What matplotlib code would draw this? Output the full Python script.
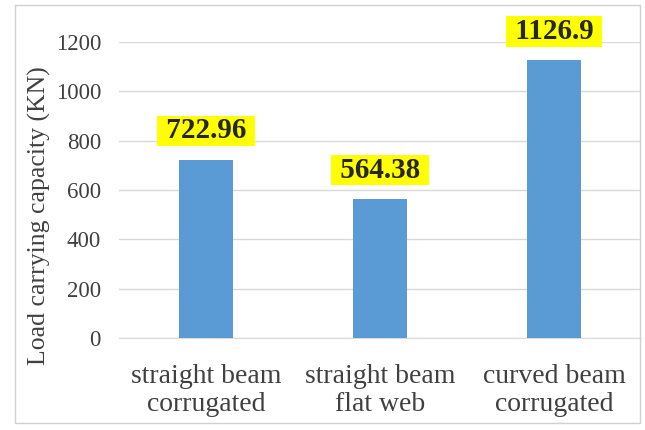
import matplotlib
matplotlib.use("Agg")
import matplotlib.pyplot as plt
from matplotlib.patches import Rectangle

categories = ["straight beam\ncorrugated", "straight beam\nflat web", "curved beam\ncorrugated"]
values = [722.96, 564.38, 1126.9]
value_labels = ["722.96", "564.38", "1126.9"]
yticks = [0, 200, 400, 600, 800, 1000, 1200]

plt.rcParams['font.family'] = ['Liberation Serif', 'DejaVu Serif']

fig = plt.figure(figsize=(6.45, 4.30), dpi=100)
fig.patch.set_facecolor('white')
# outer chart border
fig.add_artist(Rectangle((15/645, 1 - 423/430), 625/645, 418/430, transform=fig.transFigure,
                         fill=False, edgecolor='#d0d0d0', linewidth=1.0))

ax = fig.add_axes([119/645, (430-338)/430, 522/645, 296/430])
x = list(range(len(categories)))
ax.bar(x, values, width=0.305, color='#5B9BD5', zorder=3)
ax.set_xlim(-0.5, 2.5)
ax.set_ylim(0, 1200)
ax.set_yticks(yticks)
ax.set_yticklabels([str(v) for v in yticks])
ax.set_xticks(x)
ax.set_xticklabels(categories, fontsize=20, color='#404040', linespacing=1.15)
ax.tick_params(axis='y', length=0, pad=13, labelsize=16.5, labelcolor='#404040')
ax.tick_params(axis='x', length=0, pad=19)
ax.grid(axis='y', color='#d9d9d9', linewidth=1.0, zorder=0)
for s in ['top', 'right', 'left']:
    ax.spines[s].set_visible(False)
ax.spines['bottom'].set_color('#d9d9d9')
ax.set_ylabel("Load carrying capacity (KN)", fontsize=18.5, color='#404040')
ax.yaxis.set_label_coords(-0.13, 0.412)

for xi, v, lab in zip(x, values, value_labels):
    ax.annotate(" " + lab + " ", (xi, v), xytext=(0, 11), textcoords='offset points',
                ha='center', va='bottom',
                fontsize=21, fontweight='bold', color='#262626',
                bbox=dict(boxstyle='square,pad=0.06', facecolor='#FFFF00', edgecolor='none'))

fig.savefig('out.png', dpi=100)
